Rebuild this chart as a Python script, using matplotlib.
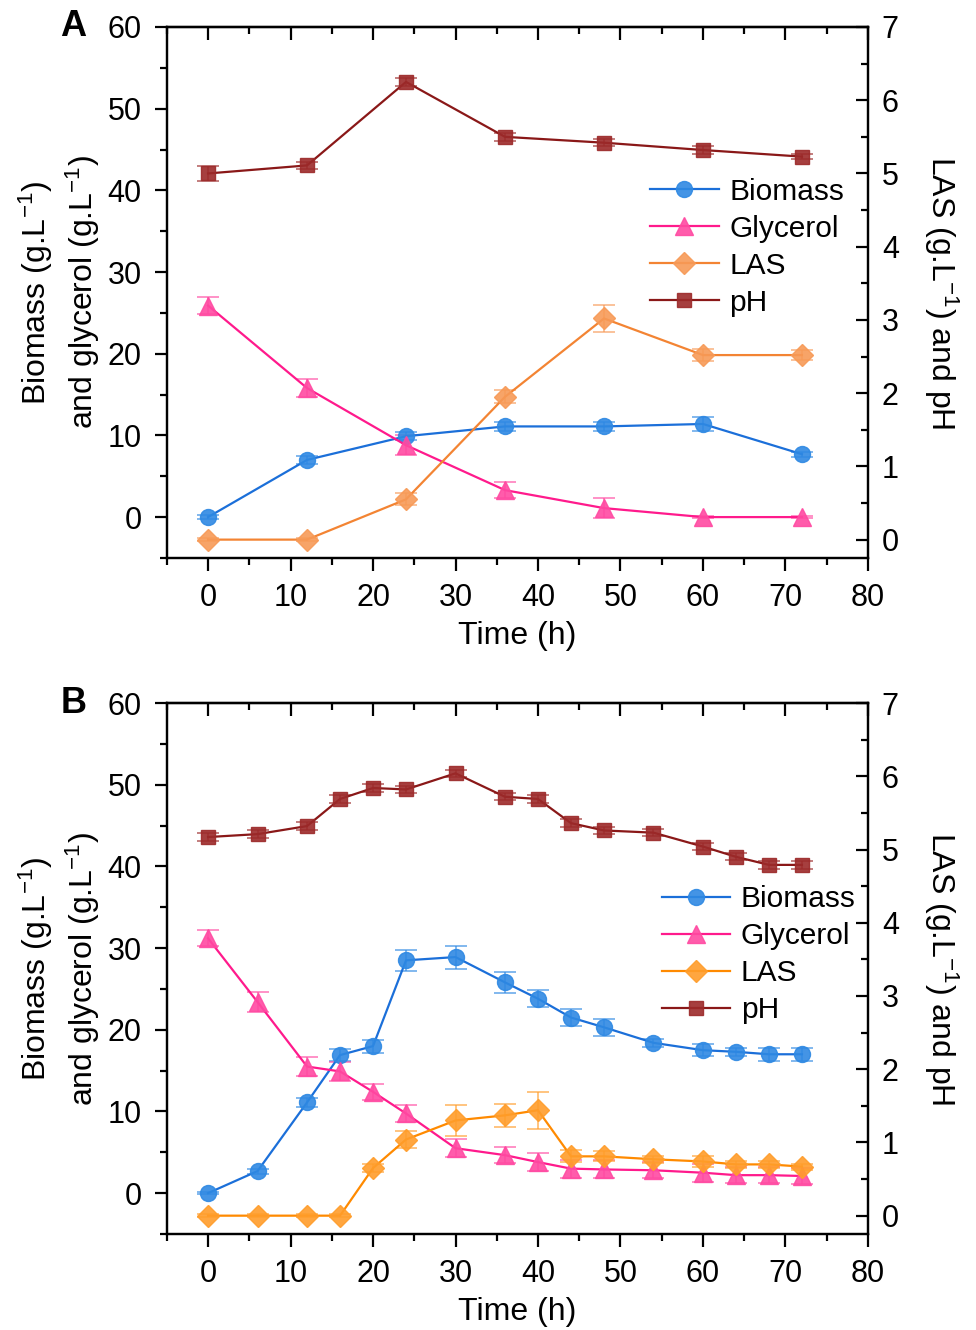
import matplotlib
matplotlib.use("Agg")
import matplotlib.pyplot as plt
from matplotlib.ticker import MultipleLocator

plt.rcParams['font.family'] = ['Liberation Sans', 'DejaVu Sans']
plt.rcParams['mathtext.fontset'] = 'custom'
plt.rcParams['mathtext.rm'] = 'Liberation Sans'
plt.rcParams['mathtext.it'] = 'Liberation Sans:italic'
plt.rcParams['mathtext.bf'] = 'Liberation Sans:bold'

# ---------------- data ----------------
time_a = [0, 12, 24, 36, 48, 60, 72]
biomass_a = [0, 7.0, 9.9, 11.1, 11.1, 11.4, 7.7]
biomass_a_err = [0.2, 0.5, 0.5, 0.6, 0.6, 0.8, 0.3]
glycerol_a = [25.9, 15.8, 8.8, 3.3, 1.1, 0, 0]
glycerol_a_err = [1.0, 1.1, 1.2, 1.0, 1.2, 0.1, 0.1]
las_a = [0, 0, 0.55, 1.95, 3.02, 2.52, 2.52]
las_a_err = [0.02, 0.02, 0.08, 0.09, 0.19, 0.08, 0.07]
ph_a = [5.0, 5.11, 6.25, 5.50, 5.42, 5.32, 5.23]
ph_a_err = [0.1, 0.05, 0.05, 0.05, 0.05, 0.05, 0.03]

time_b = [0, 6, 12, 16, 20, 24, 30, 36, 40, 44, 48, 54, 60, 64, 68, 72]
biomass_b = [0, 2.7, 11.1, 16.9, 18.0, 28.5, 28.9, 25.8, 23.8, 21.5, 20.3, 18.4,
             17.5, 17.3, 17.0, 17.0]
biomass_b_err = [0.1, 0.3, 0.6, 0.75, 0.8, 1.3, 1.4, 1.3, 1.05, 1.0, 1.05, 0.5,
                 0.7, 0.5, 0.8, 0.8]
glycerol_b = [31.2, 23.4, 15.5, 14.9, 12.4, 9.75, 5.5, 4.65, 3.8, 3.0, 2.9, 2.8,
              2.5, 2.2, 2.2, 2.1]
glycerol_b_err = [1.0, 1.2, 1.2, 1.2, 1.0, 1.0, 1.1, 1.0, 1.1, 1.1, 1.1, 1.0,
                  1.1, 1.0, 1.0, 1.0]
las_b = [0, 0, 0, 0, 0.65, 1.04, 1.30, 1.37, 1.44, 0.81, 0.81, 0.77, 0.74,
         0.70, 0.70, 0.67]
las_b_err = [0.02, 0.02, 0.02, 0.02, 0.05, 0.12, 0.21, 0.16, 0.25, 0.08, 0.07,
             0.05, 0.08, 0.05, 0.05, 0.04]
ph_b = [5.17, 5.21, 5.32, 5.69, 5.84, 5.82, 6.04, 5.72, 5.69, 5.36, 5.26, 5.23,
        5.04, 4.90, 4.79, 4.79]
ph_b_err = [0.05] * 16

series_names = ['Biomass', 'Glycerol', 'LAS', 'pH']
x_ticks = [0, 10, 20, 30, 40, 50, 60, 70, 80]
left_ticks = [0, 10, 20, 30, 40, 50, 60]
right_ticks = [0, 1, 2, 3, 4, 5, 6, 7]

# ---------------- styles ----------------
C_BIO_M, C_BIO_L = '#2f89e3', '#1b6fd9'
C_GLY_M, C_GLY_L = '#ff4aa2', '#ff1a8c'
C_LAS_A_M, C_LAS_A_L = '#f79a57', '#f38433'
C_LAS_B_M, C_LAS_B_L = '#ff9d2b', '#ff8a00'
C_PH_M, C_PH_L = '#9c2a2a', '#8a1818'

TICK_FS = 22
LABEL_FS = 23
LEG_FS = 21.5

fig = plt.figure(figsize=(9.76, 13.3), dpi=100)

L, W = 0.1709, 0.7184
H = 0.3992
BOTTOMS = [0.5805, 0.0722]


def series(ax, x, y, err, mc, lc, marker, ms, label):
    ax.errorbar(x, y, yerr=err, fmt='none', ecolor=mc, elinewidth=1.2,
                capsize=8, capthick=1.2, alpha=0.7, zorder=3)
    line, = ax.plot(x, y, color=lc, lw=1.6, marker=marker, markersize=ms,
                    label=label, zorder=4)
    line.set_markerfacecolor(matplotlib.colors.to_rgba(mc, 0.9))
    line.set_markeredgecolor(matplotlib.colors.to_rgba(mc, 0.9))
    return line


def panel(bottom, t, bio, bio_e, gly, gly_e, las, las_e, ph, ph_e,
          las_m, las_l, letter, leg_anchor):
    ax = fig.add_axes([L, bottom, W, H])
    ax2 = ax.twinx()
    ax.set_xlim(-5, 80)
    ax.set_ylim(-5, 60)
    ax2.set_ylim(-0.25, 7)

    h1 = series(ax, t, bio, bio_e, C_BIO_M, C_BIO_L, 'o', 11.5, series_names[0])
    h2 = series(ax, t, gly, gly_e, C_GLY_M, C_GLY_L, '^', 12.5, series_names[1])
    h3 = series(ax2, t, las, las_e, las_m, las_l, 'D', 11.5, series_names[2])
    h4 = series(ax2, t, ph, ph_e, C_PH_M, C_PH_L, 's', 10.5, series_names[3])

    for a in (ax, ax2):
        for s in a.spines.values():
            s.set_linewidth(1.6)

    ax.set_xticks(x_ticks)
    ax.xaxis.set_minor_locator(MultipleLocator(5))
    ax.set_yticks(left_ticks)
    ax.yaxis.set_minor_locator(MultipleLocator(5))
    ax.tick_params(axis='both', which='major', direction='out', length=9,
                   width=1.6, labelsize=TICK_FS)
    ax.tick_params(axis='x', which='major', pad=9)
    ax.tick_params(axis='y', which='major', pad=9)
    ax.tick_params(axis='both', which='minor', direction='out', length=5,
                   width=1.6)
    ax.tick_params(axis='y', right=False, which='both')

    ax2.set_yticks(right_ticks)
    ax2.yaxis.set_minor_locator(MultipleLocator(0.5))
    ax2.tick_params(axis='y', which='major', direction='in', length=9,
                    width=1.6, labelsize=TICK_FS, pad=10)
    ax2.tick_params(axis='y', which='minor', direction='in', length=5,
                    width=1.6)

    sec = ax.secondary_xaxis('top')
    sec.set_xticks(x_ticks)
    sec.xaxis.set_minor_locator(MultipleLocator(5))
    sec.tick_params(axis='x', which='major', direction='in', length=9,
                    width=1.6, labeltop=False)
    sec.tick_params(axis='x', which='minor', direction='in', length=5,
                    width=1.6)
    sec.spines['top'].set_linewidth(1.6)

    ax.set_xlabel('Time (h)', fontsize=LABEL_FS, labelpad=6)
    ax.set_ylabel('Biomass (g.L$^{-1}$)\nand glycerol (g.L$^{-1}$)',
                  fontsize=LABEL_FS, labelpad=4, linespacing=1.3)
    ax2.set_ylabel('LAS (g.L$^{-1}$) and pH', fontsize=LABEL_FS,
                   rotation=270, labelpad=44)

    ax.text(-0.115, 1.0, letter, transform=ax.transAxes, fontsize=26,
            fontweight='bold', ha='right', va='center')

    ax2.legend([h1, h2, h3, h4], series_names, loc='upper left',
               bbox_to_anchor=leg_anchor, frameon=False, fontsize=LEG_FS,
               handlelength=2.3, handletextpad=0.35, labelspacing=0.3,
               borderpad=0, borderaxespad=0)
    return ax, ax2


panel(BOTTOMS[0], time_a, biomass_a, biomass_a_err, glycerol_a, glycerol_a_err,
      las_a, las_a_err, ph_a, ph_a_err, C_LAS_A_M, C_LAS_A_L, 'A',
      (0.689, 0.716))
panel(BOTTOMS[1], time_b, biomass_b, biomass_b_err, glycerol_b, glycerol_b_err,
      las_b, las_b_err, ph_b, ph_b_err, C_LAS_B_M, C_LAS_B_L, 'B',
      (0.706, 0.657))

fig.savefig('out.png', dpi=100)
